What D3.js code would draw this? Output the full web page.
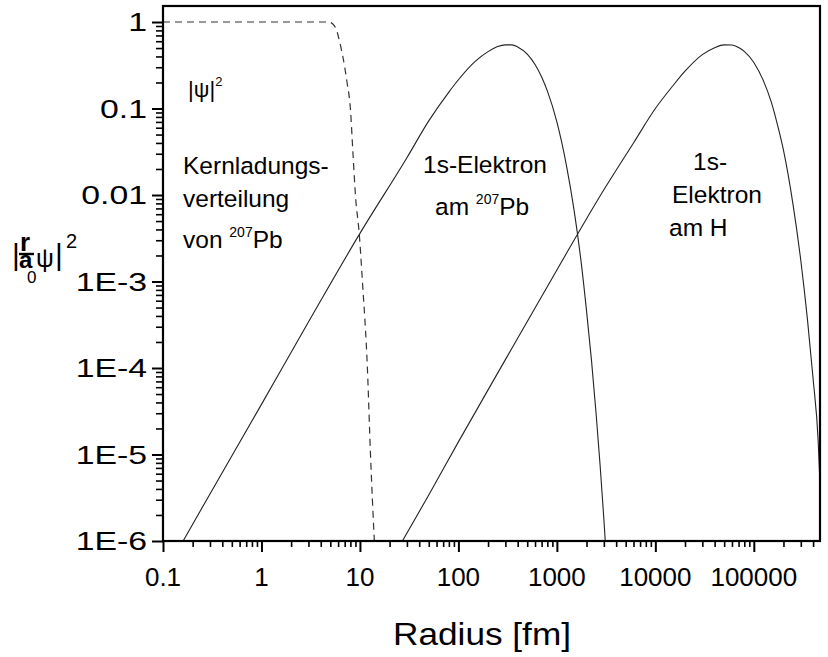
<!DOCTYPE html>
<html>
<head>
<meta charset="utf-8">
<script src="https://cdn.jsdelivr.net/npm/d3@7/dist/d3.min.js"></script>
<style>
  html, body { margin: 0; padding: 0; background: #fff; }
  svg { display: block; font-family: "Liberation Sans", Arial, sans-serif; }
</style>
</head>
<body>
<svg id="chart" width="828" height="657"></svg>
<script>
// Radial probability densities on log-log axes (radius in fm)

// x-axis decades and their labels
const xMajor = [0.1, 1, 10, 100, 1000, 10000, 100000];
const xLabels = ["0.1", "1", "10", "100", "1000", "10000", "100000"];
// y-axis decades and their labels
const yMajor = [1, 0.1, 0.01, 1e-3, 1e-4, 1e-5, 1e-6];
const yLabels = ["1", "0.1", "0.01", "1E-3", "1E-4", "1E-5", "1E-6"];

// Nuclear charge distribution of 207Pb (dashed)
const nucR = [0.1, 4.8, 5.3, 5.8, 6.2, 6.7, 7.4, 8.0, 8.5, 9.0, 9.85, 10.6, 11.9, 12.8, 14.0];
const nucV = [1, 1, 0.95, 0.8, 0.6, 0.4, 0.2, 0.1, 0.03, 0.01, 3.5e-3, 1e-3, 1e-4, 1e-5, 1e-6];

// 1s electron bound to 207Pb
const pbR = [0.16, 0.3, 1, 3, 10, 30, 50, 80, 100, 150, 200, 250, 300, 350, 400, 500, 600, 700, 800,
             1000, 1250, 1500, 1750, 2000, 2250, 2500, 2750, 3000, 3100];
const pbV = [1.0e-6, 3.5e-6, 3.8e-5, 3.4e-4, 3.6e-3, 0.027, 0.072, 0.155, 0.215, 0.355, 0.455, 0.52,
             0.545, 0.545, 0.515, 0.425, 0.323, 0.232, 0.16, 0.070, 0.022, 6.5e-3, 1.8e-3, 4.6e-4,
             1.2e-4, 3.0e-5, 7.4e-6, 1.8e-6, 1.0e-6];

// 1s electron in hydrogen
const hR = [27, 50, 100, 300, 1000, 3000, 6000, 10000, 15000, 20000, 30000, 40000, 50000, 60000,
            70000, 80000, 100000, 125000, 150000, 175000, 200000, 250000, 300000, 350000, 400000,
            450000, 470000];
const hV = [1.0e-6, 3.4e-6, 1.4e-5, 1.25e-4, 1.36e-3, 0.0115, 0.04, 0.1, 0.182, 0.27, 0.42, 0.505,
            0.545, 0.542, 0.508, 0.457, 0.34, 0.21, 0.12, 0.063, 0.033, 7.8e-3, 1.75e-3, 3.7e-4,
            7.5e-5, 1.45e-5, 4.5e-6];

const svg = d3.select("#chart");
const plot = { left: 163, right: 820, top: 6, bottom: 541 };

const x = d3.scaleLog().domain([0.1, 470000]).range([plot.left, plot.right]);
const y = d3.scaleLog().domain([1e-6, 1.532]).range([plot.bottom, plot.top]);

function minorTicks(scale) {
  const [lo, hi] = scale.domain();
  const out = [];
  for (let e = Math.floor(Math.log10(lo)); e <= Math.ceil(Math.log10(hi)); e++) {
    for (let m = 2; m <= 9; m++) {
      const v = m * Math.pow(10, e);
      if (v > lo && v < hi) out.push(v);
    }
  }
  return out;
}

// clip region for the curves
svg.append("clipPath").attr("id", "plotClip")
  .append("rect")
  .attr("x", plot.left).attr("y", plot.top)
  .attr("width", plot.right - plot.left).attr("height", plot.bottom - plot.top);

// minor and major ticks, x axis
const gxMinor = svg.append("g").attr("transform", `translate(0,${plot.bottom})`)
  .call(d3.axisBottom(x).tickValues(minorTicks(x)).tickSize(6).tickFormat(""));
const gxMajor = svg.append("g").attr("transform", `translate(0,${plot.bottom})`)
  .call(d3.axisBottom(x).tickValues(xMajor).tickSize(11).tickFormat(""));
// minor and major ticks, y axis
const gyMinor = svg.append("g").attr("transform", `translate(${plot.left},0)`)
  .call(d3.axisLeft(y).tickValues(minorTicks(y)).tickSize(7).tickFormat(""));
const gyMajor = svg.append("g").attr("transform", `translate(${plot.left},0)`)
  .call(d3.axisLeft(y).tickValues(yMajor).tickSize(11).tickFormat(""));

[gxMinor, gxMajor, gyMinor, gyMajor].forEach(g => g.select(".domain").remove());
[gxMinor, gyMinor].forEach(g => g.selectAll(".tick line").attr("stroke", "#000").attr("stroke-width", 1.6));
[gxMajor, gyMajor].forEach(g => g.selectAll(".tick line").attr("stroke", "#000").attr("stroke-width", 2));

// x tick labels
svg.append("g").selectAll("text").data(xMajor).join("text")
  .attr("x", d => x(d)).attr("y", 586)
  .attr("text-anchor", "middle")
  .attr("font-size", 26)
  .attr("fill", "#000")
  .text((d, i) => xLabels[i]);

// y tick labels (wide lettering)
svg.append("g").selectAll("text").data(yMajor).join("text")
  .attr("transform", d => `translate(147,${y(d) + 9}) scale(1.3,1)`)
  .attr("text-anchor", "end")
  .attr("font-size", 26)
  .attr("fill", "#000")
  .text((d, i) => yLabels[i]);

// curves
const line = d3.line().x(d => x(d[0])).y(d => y(d[1])).curve(d3.curveMonotoneX);
const curves = svg.append("g").attr("clip-path", "url(#plotClip)").attr("fill", "none");

curves.append("path")
  .attr("d", line(nucR.map((r, i) => [r, nucV[i]])))
  .attr("stroke", "#333").attr("stroke-width", 1.2).attr("stroke-dasharray", "7,5");
curves.append("path")
  .attr("d", line(pbR.map((r, i) => [r, pbV[i]])))
  .attr("stroke", "#222").attr("stroke-width", 1.1);
curves.append("path")
  .attr("d", line(hR.map((r, i) => [r, hV[i]])))
  .attr("stroke", "#222").attr("stroke-width", 1.1);

// frame
svg.append("rect")
  .attr("x", plot.left).attr("y", plot.top)
  .attr("width", plot.right - plot.left).attr("height", plot.bottom - plot.top)
  .attr("fill", "none").attr("stroke", "#000").attr("stroke-width", 2.2);

// axis title
svg.append("text").attr("x", 482).attr("y", 645).attr("text-anchor", "middle")
  .attr("font-size", 32).attr("fill", "#000")
  .attr("textLength", 178).attr("lengthAdjust", "spacingAndGlyphs")
  .text("Radius [fm]");

// y axis title: |r/a0 ψ|^2, set as one text with positioned pieces
const yt = svg.append("text").attr("fill", "#000");
yt.append("tspan").attr("x", 12).attr("y", 265).attr("font-size", 30).text("|");
yt.append("tspan").attr("x", 20).attr("y", 251).attr("font-size", 26).attr("font-weight", "bold").text("r");
yt.append("tspan").attr("x", 19).attr("y", 268).attr("font-size", 24).attr("font-weight", "bold").text("a");
yt.append("tspan").attr("x", 27).attr("y", 283).attr("font-size", 17).text("0");
yt.append("tspan").attr("x", 36).attr("y", 267).attr("font-size", 25).text("ψ");
yt.append("tspan").attr("x", 55).attr("y", 265).attr("font-size", 30).text("|");
yt.append("tspan").attr("x", 66).attr("y", 248).attr("font-size", 20).text("2");
svg.append("line").attr("x1", 19).attr("x2", 34).attr("y1", 254).attr("y2", 254)
  .attr("stroke", "#000").attr("stroke-width", 2.4);

// annotations
const ann = svg.append("g").attr("fill", "#000").attr("font-size", 24.5);
function addText(xp, yp, parts) {
  const t = ann.append("text").attr("x", xp).attr("y", yp);
  parts.forEach(p => {
    const s = t.append("tspan").text(p.t);
    if (p.sup) s.attr("font-size", 14).attr("dy", -11);
    else if (p.after) s.attr("dy", 11);
  });
}
// |ψ|²
const psi = svg.append("text").attr("x", 188).attr("y", 97).attr("font-size", 22).attr("fill", "#000");
psi.append("tspan").text("|ψ|");
psi.append("tspan").attr("font-size", 13).attr("dy", -11).text("2");

addText(183, 174, [{ t: "Kernladungs-" }]);
addText(183, 207, [{ t: "verteilung" }]);
addText(183, 248, [{ t: "von " }, { t: "207", sup: true }, { t: "Pb", after: true }]);

addText(423, 173, [{ t: "1s-Elektron" }]);
addText(435, 215, [{ t: "am " }, { t: "207", sup: true }, { t: "Pb", after: true }]);

addText(693, 170, [{ t: "1s-" }]);
addText(672, 203, [{ t: "Elektron" }]);
addText(669, 236, [{ t: "am H" }]);
</script>
</body>
</html>
